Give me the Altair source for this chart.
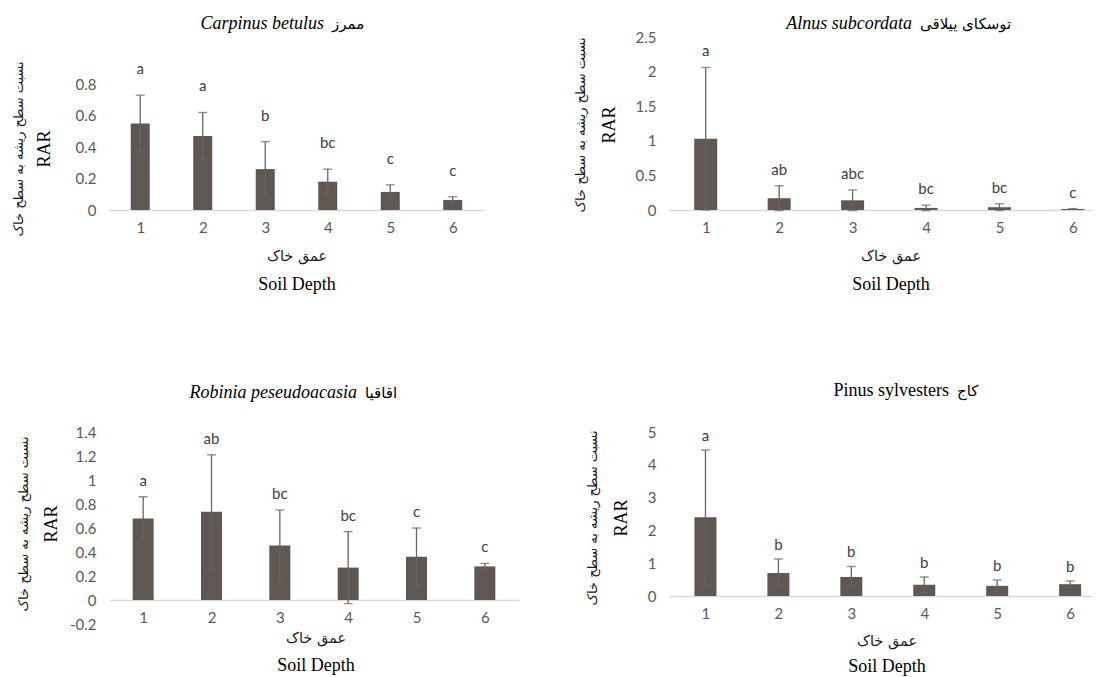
import altair as alt
import pandas as pd

# ---------------- data ----------------
depth = [1, 2, 3, 4, 5, 6]

carpinus_mean = [0.55, 0.47, 0.26, 0.18, 0.115, 0.064]
carpinus_err = [0.18, 0.15, 0.175, 0.08, 0.045, 0.02]
carpinus_letters = ["a", "a", "b", "bc", "c", "c"]

alnus_mean = [1.03, 0.17, 0.14, 0.03, 0.04, 0.015]
alnus_err = [1.03, 0.18, 0.15, 0.04, 0.05, 0.005]
alnus_letters = ["a", "ab", "abc", "bc", "bc", "c"]

robinia_mean = [0.68, 0.735, 0.455, 0.27, 0.36, 0.28]
robinia_err = [0.18, 0.475, 0.295, 0.30, 0.24, 0.025]
robinia_letters = ["a", "ab", "bc", "bc", "c", "c"]

pinus_mean = [2.4, 0.7, 0.58, 0.34, 0.31, 0.36]
pinus_err = [2.05, 0.43, 0.32, 0.24, 0.18, 0.1]
pinus_letters = ["a", "b", "b", "b", "b", "b"]

y_title_fa = "نسبت سطح ریشه به سطح خاک"
y_title_en = "RAR"
x_title_fa = "عمق خاک"
x_title_en = "Soil Depth"

# ---------------- styles ----------------
BAR = "#5e5752"
ERR = "#686462"
LBL = "#595959"
NUMFONT = "Lato"
FAFONT = "DejaVu Sans"
SERIF = "Liberation Serif"


def ann(text, x, y, font, size, angle=0, align="center", style="normal", color="#1a1a1a"):
    return alt.Chart(pd.DataFrame({"t": [text]})).mark_text(
        font=font, fontSize=size, angle=angle, align=align, baseline="middle",
        fontStyle=style, color=color,
    ).encode(x=alt.value(x), y=alt.value(y), text="t:N")


def panel(mean, err, letters, sci, fa, italic, ydomain, yvalues, width, height,
          xmax, barsize, letter_dy, x_offset, title_x, title_y, ytx_fa, ytx_en,
          yty, xtx, xty_fa, xty_en):
    df = pd.DataFrame({"depth": depth, "mean": mean, "err": err, "letter": letters})
    base = alt.Chart(df).transform_calculate(
        lo="datum.mean - datum.err", hi="datum.mean + datum.err"
    )
    xs = alt.Scale(domain=[0.5, xmax], nice=False, zero=False, padding=0)
    ys = alt.Scale(domain=ydomain, nice=False, zero=False)
    xaxis = alt.Axis(
        values=depth, format="d", title=None, grid=False, ticks=False, tickSize=0,
        labelPadding=10, labelFont=NUMFONT, labelFontSize=15, labelColor=LBL,
        labelOverlap=False, domainColor="#d9d9d9", domainWidth=1.5, offset=x_offset)
    yaxis = alt.Axis(
        values=yvalues, labelExpr="toString(datum.value)", title=None, grid=False,
        ticks=False, domain=False, labelPadding=13, labelFont=NUMFONT,
        labelFontSize=15, labelColor=LBL, labelOverlap=False)

    def X():
        return alt.X("depth:Q", scale=xs, axis=xaxis)

    def Y(field):
        return alt.Y(field, scale=ys, axis=yaxis)

    bars = base.mark_bar(size=barsize, color=BAR).encode(x=X(), y=Y("mean:Q"))
    whisk = base.mark_rule(color=ERR, strokeWidth=1.3).encode(
        x=X(), y=Y("lo:Q"), y2="hi:Q")
    cap_hi = base.mark_tick(orient="horizontal", size=9, thickness=1.4, color=ERR).encode(
        x=X(), y=Y("hi:Q"))
    cap_lo = base.mark_tick(orient="horizontal", size=9, thickness=1.2, color=ERR).encode(
        x=X(), y=Y("lo:Q"))
    lett = base.mark_text(font=NUMFONT, fontSize=15, color="#404040", dy=letter_dy,
                          baseline="middle").encode(
        x=X(), y=Y("hi:Q"), text="letter:N")

    layers = [
        bars, whisk, cap_lo, cap_hi, lett,
        ann(sci, title_x - 4, title_y, SERIF, 18, align="right",
            style="italic" if italic else "normal", color="#000000"),
        ann(fa, title_x + 4, title_y, FAFONT, 15, align="left", color="#000000"),
        ann(y_title_fa, ytx_fa, yty, FAFONT, 13, angle=270),
        ann(y_title_en, ytx_en, yty, SERIF, 18, angle=270, color="#000000"),
        ann(x_title_fa, xtx, xty_fa, FAFONT, 14.5),
        ann(x_title_en, xtx, xty_en, SERIF, 18, color="#000000"),
    ]
    return alt.layer(*layers).properties(width=width, height=height)


p1 = panel(carpinus_mean, carpinus_err, carpinus_letters, "Carpinus betulus", "ممرز", True,
           [0, 1.1], [0, 0.2, 0.4, 0.6, 0.8], 375, 173, 6.5, 19, -26, 0,
           219, -13, -90, -64, 112, 188, 220, 248)
p2 = panel(alnus_mean, alnus_err, alnus_letters, "Alnus subcordata", "توسکای ییلاقی", True,
           [0, 2.5], [0, 0.5, 1, 1.5, 2, 2.5], 423, 173, 6.26, 23, -16, 0,
           247, -13, -88, -59, 88, 222, 220, 248)
p3 = panel(robinia_mean, robinia_err, robinia_letters, "Robinia peseudoacasia", "اقاقیا", True,
           [-0.2, 1.4], [-0.2, 0, 0.2, 0.4, 0.6, 0.8, 1, 1.2, 1.4], 410, 192, 6.5, 21, -16, -24,
           252, -39, -85, -57, 92, 207, 207, 234)
p4 = panel(pinus_mean, pinus_err, pinus_letters, "Pinus sylvesters", "کاج", False,
           [0, 5], [0, 1, 2, 3, 4, 5], 423, 164, 6.3, 22, -14, 0,
           284, -41, -76, -47, 86, 218, 210, 235)

chart = alt.concat(
    p1, p2, p3, p4, columns=2, bounds="flush", align="each",
    spacing=alt.RowColnumber(row=222, column=150),
).properties(
    padding={"left": 5, "top": 7, "right": 0, "bottom": 0},
    background="white",
).configure_view(stroke=None).configure_axis(labelOverlap=False)

chart.save("out.html", embed_options={"renderer": "svg", "actions": False})
